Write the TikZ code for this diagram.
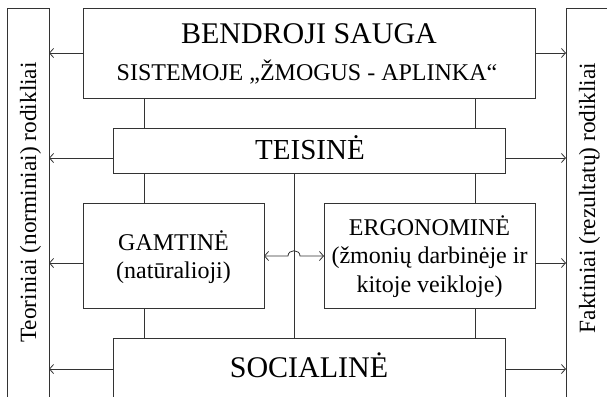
\documentclass[tikz,border=0pt]{standalone}
\usepackage{fontspec}
\setmainfont{Liberation Serif}
\usetikzlibrary{arrows.meta}
\begin{document}
\begin{tikzpicture}[x=1pt,y=-1pt,
  box/.style={draw=black!80, line width=0.8pt, inner sep=0pt, outer sep=0pt, rectangle},
  conn/.style={draw=black!80, line width=0.8pt},
  arr/.style={conn, -{Straight Barb[length=4pt,width=9pt]}},
  dbl/.style={conn, {Straight Barb[length=4pt,width=9pt]}-{Straight Barb[length=4pt,width=9pt]}},
  big/.style={font=\fontsize{30}{36}\selectfont, anchor=base, inner sep=0pt},
  mid/.style={font=\fontsize{24}{28.5}\selectfont, anchor=base, inner sep=0pt, align=center},
  side/.style={font=\fontsize{23.3}{28}\selectfont, anchor=base, inner sep=0pt, rotate=90}]
\useasboundingbox (0,0) rectangle (607,396);
% boxes
\node[box, minimum width=42, minimum height=412] (left) at (28,214) {};
\node[box, minimum width=74, minimum height=412] (right) at (603,214) {};
\node[box, minimum width=452, minimum height=90] (top) at (309,53) {};
\node[box, minimum width=392, minimum height=45] (teis) at (309,150.5) {};
\node[box, minimum width=181, minimum height=105] (gamt) at (173.5,255.5) {};
\node[box, minimum width=211, minimum height=105] (ergo) at (429.5,255.5) {};
\node[box, minimum width=392, minimum height=82] (soc) at (309,379) {};
% texts
\node[big] (tben) at (309,44) {BENDROJI SAUGA};
\node[mid] (tsis) at (307,80) {SISTEMOJE „ŽMOGUS - APLINKA“};
\node[big, font=\fontsize{29}{34}\selectfont] (tteis) at (310,159) {TEISINĖ};
\node[mid, font=\fontsize{24}{28}\selectfont] (tgamt) at (173.5,278) {GAMTINĖ\\(natūralioji)};
\node[mid] (tergo) at (429.5,292) {ERGONOMINĖ\\(žmonių darbinėje ir\\kitoje veikloje)};
\node[big] (tsoc) at (309,377) {SOCIALINĖ};
\node[side] (tleft) at (36,202.5) {Teoriniai (norminiai) rodikliai};
\node[side] (tright) at (595,198) {Faktiniai (rezultatų) rodikliai};
% helper coordinates
\coordinate (xl) at (144,0);
\coordinate (xm) at (294,0);
\coordinate (xr) at (475,0);
\coordinate (ya) at (0,53);
\coordinate (yb) at (0,158);
\coordinate (yc) at (0,263);
\coordinate (yd) at (0,369);
\coordinate (ym) at (0,256);
% vertical connectors
\draw[conn] (top.south -| xl) -- (teis.north -| xl);
\draw[conn] (top.south -| xr) -- (teis.north -| xr);
\draw[conn] (teis.south -| xl) -- (gamt.north -| xl);
\draw[conn] (gamt.south -| xl) -- (soc.north -| xl);
\draw[conn] (teis.south -| xr) -- (ergo.north -| xr);
\draw[conn] (ergo.south -| xr) -- (soc.north -| xr);
\draw[conn] (teis.south -| xm) -- (soc.north -| xm);
% arrows to side boxes
\draw[arr] (top.west |- ya) -- (left.east |- ya);
\draw[arr] (top.east |- ya) -- (right.west |- ya);
\draw[arr] (teis.west |- yb) -- (left.east |- yb);
\draw[arr] (teis.east |- yb) -- (right.west |- yb);
\draw[arr] (gamt.west |- yc) -- (left.east |- yc);
\draw[arr] (ergo.east |- yc) -- (right.west |- yc);
\draw[arr] (soc.west |- yd) -- (left.east |- yd);
\draw[arr] (soc.east |- yd) -- (right.west |- yd);
% middle double arrow with hop
\draw[dbl] (gamt.east |- ym) -- (288,256) .. controls (288,249) and (300,249) .. (300,256) -- (ergo.west |- ym);
\end{tikzpicture}
\end{document}
